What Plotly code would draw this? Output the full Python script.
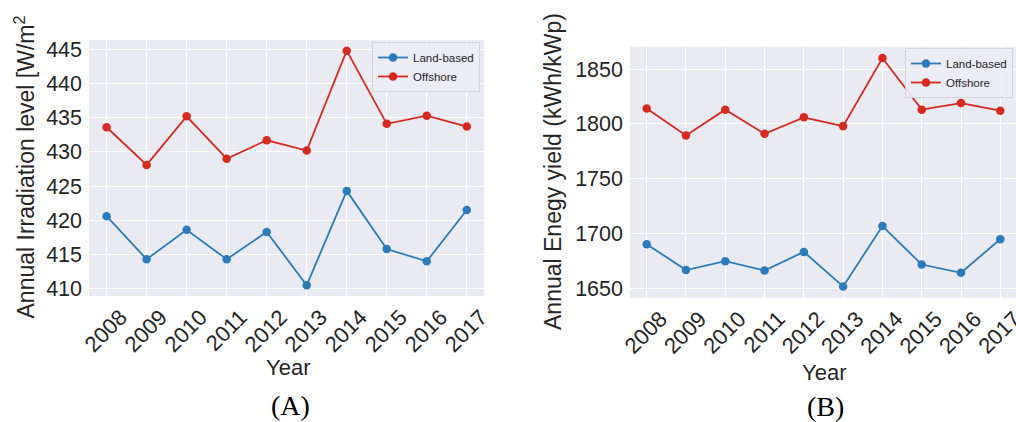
import plotly.graph_objects as go

# Yearly series for the two panels
years = [2008, 2009, 2010, 2011, 2012, 2013, 2014, 2015, 2016, 2017]

irr_land = [420.6, 414.3, 418.6, 414.3, 418.3, 410.5, 424.3, 415.8, 414.0, 421.5]
irr_offshore = [433.6, 428.1, 435.2, 429.0, 431.7, 430.2, 444.8, 434.1, 435.3, 433.7]

yield_land = [1690.5, 1667, 1675, 1666.5, 1683.5, 1652, 1707, 1672, 1664.5, 1695]
yield_offshore = [1814, 1789.5, 1813, 1791, 1806, 1798, 1860, 1813, 1819, 1812]

irr_ticks = [410, 415, 420, 425, 430, 435, 440, 445]
yield_ticks = [1650, 1700, 1750, 1800, 1850]

W, H = 1016, 422
BLUE = "#2b7bba"
RED = "#d62a20"
PANEL_BG = "#eaeaf2"
SANS = "Liberation Sans, Arial, sans-serif"
SERIF = "Liberation Serif, Times New Roman, serif"
INK = "#262626"


def px_x(p):
    return p / W


def px_y(p):
    return 1 - p / H


fig = go.Figure()


def add_series(xa, ya, land, offshore, legend):
    for name, vals, col in (("Land-based", land, BLUE), ("Offshore", offshore, RED)):
        fig.add_trace(go.Scatter(
            x=years, y=vals, name=name, mode="lines+markers",
            xaxis=xa, yaxis=ya, legend=legend,
            line=dict(color=col, width=1.8),
            marker=dict(color=col, size=8.5),
        ))


add_series("x", "y", irr_land, irr_offshore, "legend")
add_series("x2", "y2", yield_land, yield_offshore, "legend2")

xcommon = dict(
    tickmode="array", tickvals=years, ticktext=[str(y) for y in years],
    tickangle=-45, showgrid=True, gridcolor="white", gridwidth=1.2,
    zeroline=False, showline=False, ticks="", automargin=False,
    tickfont=dict(family=SANS, size=22, color=INK),
    ticklabelshift=14, ticklabelstandoff=3, ticklabeloverflow="allow",
)
ycommon = dict(
    showgrid=True, gridcolor="white", gridwidth=1.2, zeroline=False,
    showline=False, ticks="", ticklabelstandoff=6, automargin=False,
    tickfont=dict(family=SANS, size=21.5, color=INK),
)

legend_common = dict(
    font=dict(family=SANS, size=11.5, color=INK),
    bgcolor="rgba(236,236,244,0.9)", bordercolor="#d4d4dc", borderwidth=1,
    xanchor="right", yanchor="top", tracegroupgap=0, itemwidth=30,
)

fig.update_layout(
    width=W, height=H, margin=dict(l=0, r=0, t=0, b=0, autoexpand=False),
    paper_bgcolor="white", plot_bgcolor=PANEL_BG,
    xaxis=dict(domain=[px_x(89), px_x(484)], range=[2007.56, 2017.43], anchor="y", **xcommon),
    yaxis=dict(domain=[px_y(296), px_y(40)], range=[408.93, 446.36], anchor="x",
               tickvals=irr_ticks, **ycommon),
    xaxis2=dict(domain=[px_x(630), 1.0], range=[2007.575, 2017.40], anchor="y2", **xcommon),
    yaxis2=dict(domain=[px_y(297.7), px_y(46.7)], range=[1641.8, 1870.3], anchor="x2",
                tickvals=yield_ticks, **ycommon),
    legend=dict(x=px_x(480), y=px_y(42), **legend_common),
    legend2=dict(x=px_x(1013), y=px_y(48), **legend_common),
    showlegend=True,
)

annotations = [
    dict(text="Annual Irradiation level [W/m<sup>2</sup>", x=px_x(24), y=px_y(167.5),
         textangle=-90, font=dict(family=SANS, size=23, color=INK)),
    dict(text="Annual Enegy yield (kWh/kWp)", x=px_x(553), y=px_y(172),
         textangle=-90, font=dict(family=SANS, size=23, color=INK)),
    dict(text="Year", x=px_x(288), y=px_y(367),
         font=dict(family=SANS, size=22, color=INK)),
    dict(text="Year", x=px_x(824), y=px_y(372),
         font=dict(family=SANS, size=22, color=INK)),
    dict(text="(A)", x=px_x(290), y=px_y(405),
         font=dict(family=SERIF, size=28, color="black")),
    dict(text="(B)", x=px_x(825), y=px_y(406),
         font=dict(family=SERIF, size=28, color="black")),
]
for a in annotations:
    fig.add_annotation(xref="paper", yref="paper", showarrow=False,
                       xanchor="center", yanchor="middle", **a)

fig.write_html("out.html")
